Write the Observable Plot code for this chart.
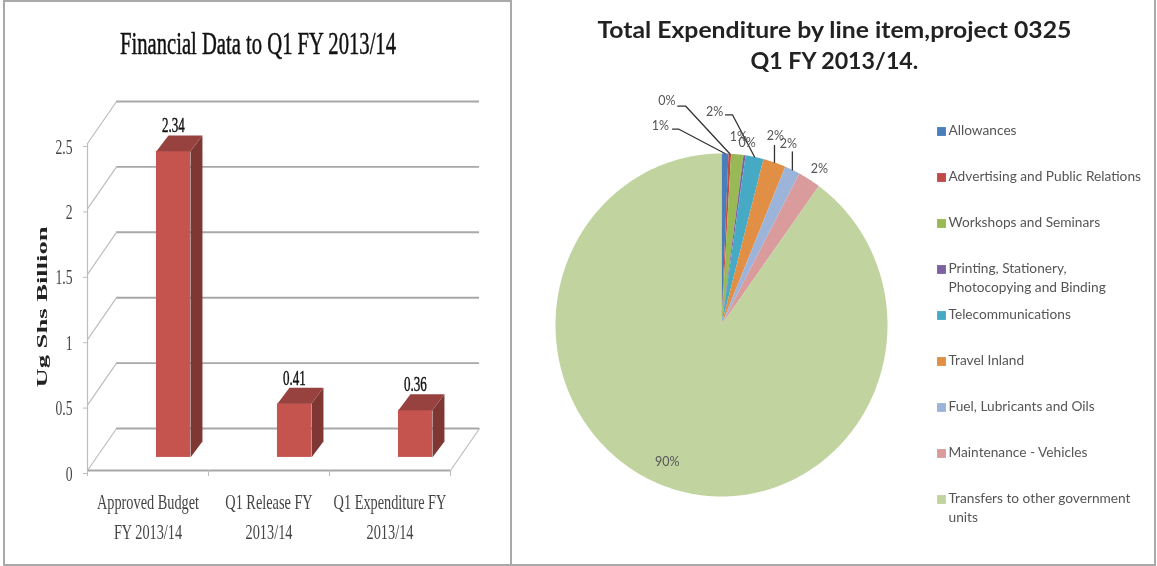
<!DOCTYPE html>
<html>
<head>
<meta charset="utf-8">
<script src="https://cdn.jsdelivr.net/npm/d3@7"></script>
<script src="https://cdn.jsdelivr.net/npm/@observablehq/plot@0.6"></script>
<style>
html,body{margin:0;padding:0;background:#fff}
#page{position:relative;width:1157px;height:566px;overflow:hidden;filter:blur(0.5px)}
#page svg{position:absolute;top:0;background:transparent;max-width:none;overflow:visible}
.panel{position:absolute;box-sizing:border-box;border:2px solid #a9a9a9}
</style>
</head>
<body>
<div id="page">
  <div class="panel" style="left:3px;top:0;width:509px;height:566px"></div>
  <div class="panel" style="left:510px;top:-2px;width:646px;height:568px"></div>
</div>
<script>
// Bar chart data
const barTitle = "Financial Data to Q1 FY 2013/14";
const barYLabel = "Ug Shs Billion";
const barCategories = ["Approved Budget\nFY 2013/14", "Q1 Release FY\n2013/14", "Q1 Expenditure FY\n2013/14"];
const barValues = [2.34, 0.41, 0.36];
const barTicks = [0, 0.5, 1, 1.5, 2, 2.5];

// Pie chart data
const pieTitle = ["Total Expenditure by line item,project 0325", "Q1 FY 2013/14."];
const pieCategories = ["Allowances", "Advertising and Public Relations", "Workshops and Seminars",
  "Printing, Stationery,\nPhotocopying and Binding", "Telecommunications", "Travel Inland",
  "Fuel, Lubricants and Oils", "Maintenance - Vehicles", "Transfers to other government\nunits"];
const pieValues = [0.67, 0.25, 1.2, 0.2, 1.75, 2.2, 1.5, 2.2, 90.03];
const pieColors = ["#4a7ebb", "#be4b48", "#98b954", "#7d60a0", "#46aac5", "#e08f45", "#9db4da", "#d99b9c", "#c1d4a0"];

// --- bar chart projection: the "3D" depth, in data units
const wallDx = 0.24, wallDy = 0.321;       // floor depth
const barDx = 0.099, barDy = 0.122;        // bar depth
const barLeft = 0.57, barRight = 0.851, barLift = 0.1;
const gridColor = "#a8a8a8", wallColor = "#bdbdbd";

const bars = barValues.map((v, i) => ({i, v, x1: i + barLeft, x2: i + barRight, y1: barLift, y2: barLift + v}));
const sidePolys = bars.flatMap(b => [
  {k: b.i, x: b.x2, y: b.y1}, {k: b.i, x: b.x2 + barDx, y: b.y1 + barDy},
  {k: b.i, x: b.x2 + barDx, y: b.y2 + barDy}, {k: b.i, x: b.x2, y: b.y2}]);
const topPolys = bars.flatMap(b => [
  {k: b.i, x: b.x1, y: b.y2}, {k: b.i, x: b.x2, y: b.y2},
  {k: b.i, x: b.x2 + barDx, y: b.y2 + barDy}, {k: b.i, x: b.x1 + barDx, y: b.y2 + barDy}]);
const diagonals = barTicks.flatMap(t => [{t, x: 0, y: t}, {t, x: wallDx, y: t + wallDy}]);
const xMax = barCategories.length;
const xLabelLines = barCategories.flatMap((c, i) => c.split("\n").map((s, line) => ({s, line, x: i + 0.5})));

const left = Plot.plot({
  width: 511, height: 566,
  marginLeft: 87, marginRight: 61, marginTop: 143, marginBottom: 96,
  x: {domain: [0, xMax], axis: null},
  y: {domain: [0, 2.5], axis: null},
  marks: [
    Plot.ruleY(barTicks, {y: d => d + wallDy, x1: wallDx, x2: xMax + wallDx, stroke: gridColor, strokeWidth: 1.9}),
    Plot.line(diagonals, {x: "x", y: "y", z: "t", stroke: wallColor, strokeWidth: 1.2}),
    Plot.line([{x: xMax, y: 0}, {x: xMax + wallDx, y: wallDy}], {x: "x", y: "y", stroke: wallColor, strokeWidth: 1.2}),
    Plot.ruleX([0], {y1: 0, y2: 2.5, stroke: wallColor, strokeWidth: 1.2}),
    Plot.ruleY([0], {x1: 0, x2: xMax, stroke: gridColor, strokeWidth: 1.9}),
    Plot.axisX({ticks: d3.range(0, xMax + 1), tickSize: 6, tickFormat: () => "", stroke: wallColor, label: null}),
    Plot.axisY({ticks: barTicks, tickSize: 4, tickPadding: 11, dy: 3, tickFormat: d => String(d), fontSize: 22,
      fontFamily: "Liberation Serif", fill: "#444", stroke: wallColor, label: null, className: "tick"}),
    Plot.rect(bars, {x1: "x1", x2: "x2", y1: "y1", y2: "y2", fill: "#c5544f"}),
    Plot.line(sidePolys, {x: "x", y: "y", z: "k", fill: "#7f3734", stroke: null}),
    Plot.line(topPolys, {x: "x", y: "y", z: "k", fill: "#97423e", stroke: null}),
    Plot.text(bars, {x: d => (d.x1 + d.x2) / 2, y: "y2", dy: -26, text: d => d.v.toFixed(2), fontSize: 21,
      fontFamily: "Liberation Serif", fill: "#111", stroke: "#111", strokeWidth: 0.45, className: "datalabel"}),
    Plot.text(xLabelLines, {x: "x", y: 0, text: "s", fontSize: 22, fontFamily: "Liberation Serif",
      fill: "#444", className: "xlabel", filter: d => d.line === 0, dy: 31}),
    Plot.text(xLabelLines, {x: "x", y: 0, text: "s", fontSize: 22, fontFamily: "Liberation Serif",
      fill: "#444", className: "xlabel", filter: d => d.line === 1, dy: 61}),
    Plot.text([barTitle], {frameAnchor: "top", dx: -11, dy: -112, fontSize: 31, fontFamily: "Liberation Serif",
      fill: "#111", stroke: "#111", strokeWidth: 0.5, className: "title"}),
    Plot.text([barYLabel], {frameAnchor: "left", textAnchor: "middle", dx: -45, dy: 0, rotate: -90, fontSize: 15,
      fontWeight: "bold", fontFamily: "Liberation Serif", fill: "#222", className: "ylab"})
  ]
});
left.style.left = "0px";

// --- pie: slices are sampled around the ellipse through the x and y scales
const total = d3.sum(pieValues);
const cum = d3.cumsum(pieValues);
const pieRows = pieCategories.map((name, i) => {
  const a1 = (i ? cum[i - 1] : 0) / total * 2 * Math.PI, a2 = cum[i] / total * 2 * Math.PI;
  return {name, i, v: pieValues[i], a1, a2, mid: (a1 + a2) / 2};
});
const wedgePoints = pieRows.flatMap(r => {
  const n = Math.max(2, Math.ceil((r.a2 - r.a1) / 0.01));
  const pts = [{name: r.name, x: 0, y: 0}];
  for (let k = 0; k <= n; ++k) {
    const a = r.a1 + (r.a2 - r.a1) * k / n;
    pts.push({name: r.name, x: Math.sin(a), y: Math.cos(a)});
  }
  return pts;
});
const rx = 166, ry = 171.5;
const edge = (r, ox, oy) => ({x: Math.sin(r.mid) + ox / rx, y: Math.cos(r.mid) - oy / ry});
// manual label placement, pixel offsets from each slice's rim midpoint: [label, leader elbow, leader end]
const labelLayout = [
  {l: [-64.5, -27.5], e: [[-46.5, -24.5], [-52.5, -24.5]]},
  {l: [-63, -52.5], e: [[-44, -47.5], [-52, -47.5]]},
  {l: [1, -17]},
  {l: [2.5, -12]},
  {l: [-40, -45], e: [[-22, -42], [-29, -42]]},
  {l: [1, -26], e: [[0, -17]]},
  {l: [-4, -26], e: [[0, -18]]},
  {l: [10, -10]},
  {l: [-3, -26.6]}
];
const pieLabels = pieRows.map(r => ({...edge(r, ...labelLayout[r.i].l), t: Math.round(r.v) + "%"}));
const leaders = pieRows.flatMap(r => {
  const e = labelLayout[r.i].e;
  if (!e) return [];
  return [edge(r, 0, 0), ...e.map(o => edge(r, ...o))].map(p => ({...p, i: r.i}));
});

const right = Plot.plot({
  width: 646, height: 566,
  marginLeft: 44, marginRight: 270, marginTop: 153, marginBottom: 70,
  x: {domain: [-1, 1], axis: null},
  y: {domain: [-1, 1], axis: null},
  color: {domain: pieCategories, range: pieColors},
  marks: [
    Plot.line(wedgePoints, {x: "x", y: "y", z: "name", fill: "name", stroke: null, curve: "linear"}),
    Plot.line(leaders, {x: "x", y: "y", z: "i", stroke: "#333", strokeWidth: 1.3}),
    Plot.text(pieLabels, {x: "x", y: "y", text: "t", fontSize: 12.5, fontFamily: "Lato", fill: "#555"}),
    Plot.text([pieTitle[0]], {x: 0.68, frameAnchor: "top", dy: -132, fontSize: 23, fontWeight: "bold",
      fontFamily: "Lato", fill: "#222", className: "ptitle1"}),
    Plot.text([pieTitle[1]], {x: 0.68, frameAnchor: "top", dy: -101, fontSize: 23, fontWeight: "bold",
      fontFamily: "Lato", fill: "#222", className: "ptitle2"})
  ]
});
right.style.left = "511px";

// --- legend
const legend = Plot.plot({
  width: 237, height: 566,
  marginLeft: 21, marginRight: 0, marginTop: 131, marginBottom: 67,
  x: {axis: null},
  y: {type: "point", domain: pieCategories, axis: null, padding: 0},
  color: {domain: pieCategories, range: pieColors},
  marks: [
    Plot.dot(pieCategories, {y: d => d, frameAnchor: "left", symbol: "square", r: 5, fill: d => d, stroke: null}),
    Plot.text(pieCategories, {y: d => d, frameAnchor: "left", dx: 7, dy: -9, text: d => d, textAnchor: "start",
      lineAnchor: "top", lineHeight: 1.33, fontSize: 13.7, fontFamily: "Lato", fill: "#555", className: "leg"})
  ]
});
legend.style.left = "920px";

const page = document.getElementById("page");
page.append(left, right, legend);

// the reference's type is condensed: squeeze real text horizontally to the measured widths
function squeeze(svg, cls, target) {
  svg.querySelectorAll(`.${cls} text`).forEach((t, i) => {
    const len = t.getComputedTextLength();
    const want = typeof target === "function" ? target(len, i) : len * target;
    t.setAttribute("textLength", want);
    t.setAttribute("lengthAdjust", "spacingAndGlyphs");
  });
}
squeeze(left, "tick", 0.62);
squeeze(left, "datalabel", 0.62);
squeeze(left, "xlabel", 0.65);
squeeze(left, "title", () => 276);
squeeze(left, "ylab", () => 161);
squeeze(right, "ptitle1", () => 474);
squeeze(right, "ptitle2", () => 168);
</script>
</body>
</html>
